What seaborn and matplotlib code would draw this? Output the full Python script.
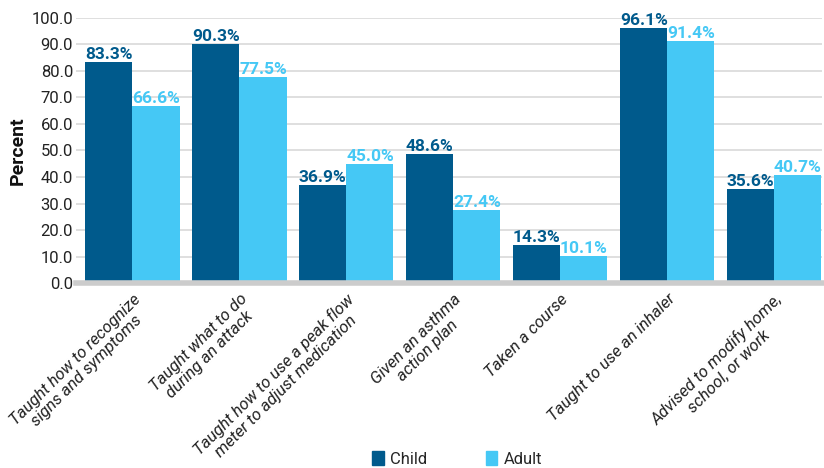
import matplotlib
matplotlib.use("Agg")
import matplotlib.pyplot as plt
import seaborn as sns
import pandas as pd

categories = [
    "Taught how to recognize\nsigns and symptoms",
    "Taught what to do\nduring an attack",
    "Taught how to use a peak flow\nmeter to adjust medication",
    "Given an asthma\naction plan",
    "Taken a course",
    "Taught to use an inhaler",
    "Advised to modify home,\nschool, or work",
]
child = [83.3, 90.3, 36.9, 48.6, 14.3, 96.1, 35.6]
adult = [66.6, 77.5, 45.0, 27.4, 10.1, 91.4, 40.7]
series = ["Child", "Adult"]
colors = ["#005A8C", "#45C8F5"]

df = pd.DataFrame({
    "cat": categories * 2,
    "val": child + adult,
    "grp": ["Child"] * len(child) + ["Adult"] * len(adult),
})

sns.set_theme(style="white")
plt.rcParams["font.family"] = ["Roboto", "DejaVu Sans"]

fig = plt.figure(figsize=(8.24, 4.68), dpi=100)
ax = fig.add_axes([0.092, 0.395, 0.906, 0.567])

sns.barplot(data=df, x="cat", y="val", hue="grp", hue_order=series,
            palette=colors, width=0.88, saturation=1, ax=ax, legend=True,
            linewidth=0, edgecolor="none")

for bars, c in zip(ax.containers, colors):
    ax.bar_label(bars, labels=[f"{v:.1f}%" for v in bars.datavalues],
                 color=c, fontsize=12.5, fontweight="bold", padding=0)

ax.set_ylim(0, 100)
ax.set_xlim(-0.53, 6.45)
ax.set_yticks(range(0, 101, 10))
ax.set_yticklabels([f"{v:.1f}" for v in range(0, 101, 10)], fontsize=12, color="#222222")
ax.yaxis.grid(True, color="#d9d9d9", linewidth=1.2)
ax.set_axisbelow(True)
for s in ["top", "right", "left"]:
    ax.spines[s].set_visible(False)
ax.spines["bottom"].set_color("#cccccc")
ax.spines["bottom"].set_linewidth(4)
ax.tick_params(axis="both", length=0, pad=2)
ax.tick_params(axis="x", pad=6)
ax.set_xlabel("")
ax.set_ylabel("Percent", fontsize=14, fontweight="bold", color="#111111", labelpad=3)
ax.set_xticks(range(len(categories)))
ax.set_xticklabels(categories, rotation=45, ha="right", rotation_mode="anchor",
                   fontsize=12, style="italic", color="#222222", linespacing=1.1,
                   multialignment="center")

ax.get_legend().remove()
handles = [plt.Rectangle((0, 0), 1, 1, color=c) for c in colors]
fig.legend(handles, series, loc="lower center", bbox_to_anchor=(0.555, -0.03), ncol=2,
           frameon=False, fontsize=12, handlelength=0.7, handleheight=0.9,
           columnspacing=3.5, handletextpad=0.4)

fig.savefig("out.png", dpi=100)
